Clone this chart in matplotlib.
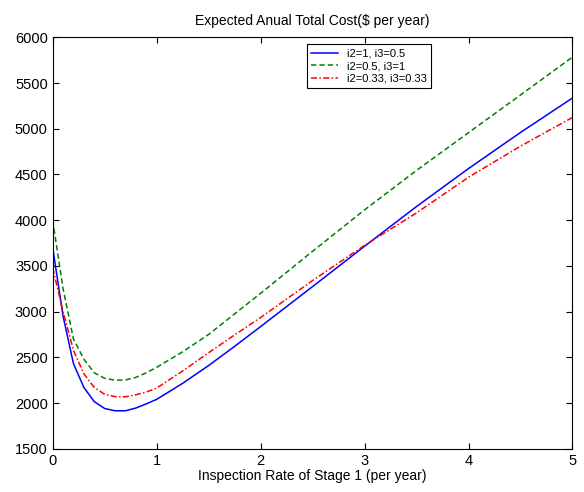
import matplotlib
matplotlib.use("Agg")
import matplotlib.pyplot as plt

rate = [0, 0.1, 0.2, 0.3, 0.4, 0.5, 0.6, 0.7, 0.8, 0.9, 1.0, 1.25, 1.5, 1.75,
        2.0, 2.5, 3.0, 3.5, 4.0, 4.5, 5.0]
cost_a = [3700, 2950, 2430, 2170, 2015, 1940, 1915, 1915, 1945, 1990, 2040,
          2215, 2410, 2620, 2836, 3274, 3715, 4150, 4565, 4960, 5337]
cost_b = [4000, 3250, 2700, 2480, 2330, 2270, 2250, 2252, 2280, 2330, 2390,
          2560, 2750, 2975, 3200, 3660, 4113, 4545, 4958, 5370, 5785]
cost_c = [3480, 3000, 2575, 2320, 2170, 2095, 2070, 2068, 2090, 2120, 2163,
          2350, 2550, 2745, 2935, 3340, 3725, 4080, 4470, 4810, 5124]
labels = ["i2=1, i3=0.5", "i2=0.5, i3=1", "i2=0.33, i3=0.33"]

plt.rcParams['font.family'] = ['Liberation Sans', 'DejaVu Sans']

fig = plt.figure(figsize=(5.84, 4.92), dpi=100)
ax = fig.add_axes([0.0902, 0.088, 0.8901, 0.836])

ax.plot(rate, cost_a, color='#0000ff', linestyle='-', linewidth=1.1, label=labels[0])
ax.plot(rate, cost_b, color='#008000', linestyle=(0, (3.5, 2)), linewidth=1.1, label=labels[1])
ax.plot(rate, cost_c, color='#ff0000', linestyle=(0, (4, 1.5, 1, 1.5)), linewidth=1.1, label=labels[2])

ax.set_xlim(0, 5)
ax.set_ylim(1500, 6000)
ax.set_xticks([0, 1, 2, 3, 4, 5])
ax.set_yticks(range(1500, 6001, 500))
ax.tick_params(direction='in', top=True, right=True, labelsize=10.5, length=4, width=0.8)
for s in ax.spines.values():
    s.set_linewidth(0.8)

ax.set_title("Expected Anual Total Cost($ per year)", fontsize=10, pad=9)
ax.set_xlabel("Inspection Rate of Stage 1 (per year)", fontsize=10, labelpad=1)

leg = ax.legend(loc='upper left', bbox_to_anchor=(0.489, 0.984), fontsize=8,
                frameon=True, fancybox=False, edgecolor='black', framealpha=1,
                borderpad=0.4, labelspacing=0.25, handlelength=2.4, handletextpad=0.8,
                borderaxespad=0)
leg.get_frame().set_linewidth(0.8)

fig.savefig("out.png", dpi=100)
